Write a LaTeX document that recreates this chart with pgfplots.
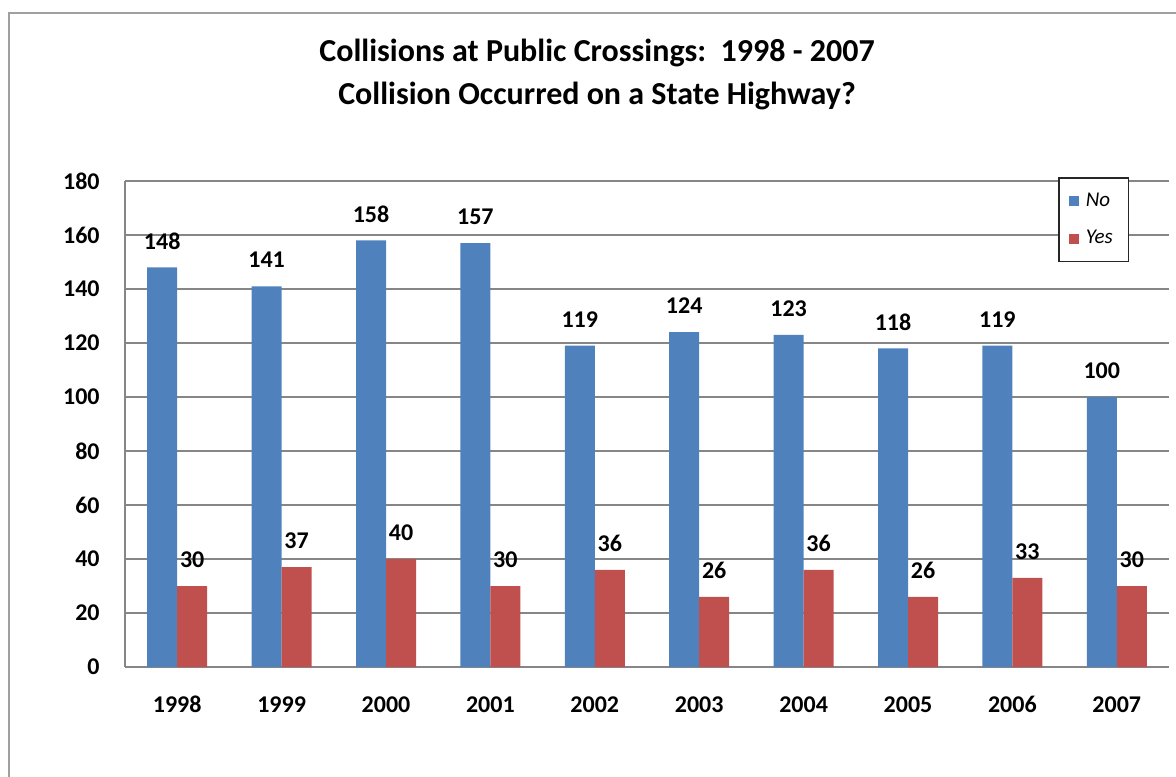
\documentclass[border=0pt]{standalone}
\usepackage{fontspec}
\setmainfont{Carlito}
\usepackage{pgfplots}
\pgfplotsset{compat=1.18}
\definecolor{barblue}{RGB}{79,129,189}
\definecolor{barred}{RGB}{192,80,77}
\definecolor{gridgray}{RGB}{134,134,134}
\definecolor{framegray}{RGB}{160,160,160}
\begin{document}
\begin{tikzpicture}
\path[use as bounding box] (0bp,0bp) rectangle (588bp,-388.5bp);
\draw[framegray, line width=1bp] (4.5bp,-6.5bp) rectangle (600bp,-400bp);
\node[align=center, font=\bfseries\fontsize{16bp}{21.5bp}\selectfont, inner sep=0pt] at (298.5bp,-37bp)
  {Collisions at Public Crossings:\ \ 1998 - 2007\\Collision Occurred on a State Highway?};
\begin{axis}[
  at={(62.5bp,-333.5bp)}, anchor=south west,
  scale only axis, width=522bp, height=243bp,
  ybar=0pt, bar width=15bp,
  xmin=-0.5, xmax=9.5, ymin=0, ymax=180,
  xtick={0,...,9},
  xticklabels={1998,1999,2000,2001,2002,2003,2004,2005,2006,2007},
  ytick={0,20,...,180},
  /pgf/number format/assume math mode=true,
  axis x line=bottom, axis y line=left,
  axis line style={gridgray, line width=0.75bp, -},
  major tick length=0pt, tick style={draw=none},
  ymajorgrids, grid style={gridgray, line width=0.75bp},
  tick label style={font=\bfseries\fontsize{12bp}{14bp}\selectfont, inner sep=0pt},
  xticklabel style={anchor=base, yshift=-22.8bp},
  yticklabel style={anchor=east, xshift=-12.5bp},
  nodes near coords,
  every node near coord/.append style={font=\bfseries\fontsize{12bp}{14bp}\selectfont, inner sep=0pt, anchor=base, yshift=9.2bp, black},
  legend style={at={(0.8937,1.008)}, anchor=north west, draw=black!85, line width=0.75bp,
    font=\itshape\fontsize{10.5bp}{12bp}\selectfont, row sep=6.5bp, inner xsep=5bp, inner ysep=5.5bp,
    fill=white},
  legend cell align=left,
  legend image code/.code={\fill[#1, draw=none] (0bp,-2.5bp) rectangle (5bp,2.5bp);},
]
\addplot[fill=barblue, draw=none] coordinates {(0,148) (1,141) (2,158) (3,157) (4,119) (5,124) (6,123) (7,118) (8,119) (9,100)};
\addplot[fill=barred, draw=none] coordinates {(0,30) (1,37) (2,40) (3,30) (4,36) (5,26) (6,36) (7,26) (8,33) (9,30)};
\legend{\hspace*{1.5bp}No\hspace*{1bp}, \hspace*{1.5bp}Yes\hspace*{1bp}}
\end{axis}
\end{tikzpicture}
\end{document}
